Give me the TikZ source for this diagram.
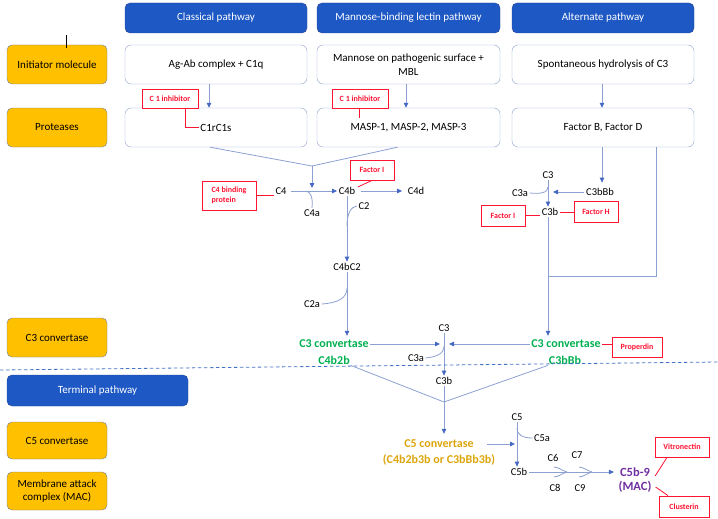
\documentclass[tikz,border=0pt]{standalone}
\usepackage{fontspec}
\setmainfont{Carlito}
\usetikzlibrary{arrows.meta,calc}
\definecolor{hdrf}{RGB}{30,88,196}
\definecolor{hdrb}{RGB}{40,70,150}
\definecolor{yelf}{RGB}{255,192,0}
\definecolor{ybord}{RGB}{110,125,150}
\definecolor{wbord}{RGB}{140,160,205}
\definecolor{lnc}{RGB}{140,160,210}
\definecolor{ahc}{RGB}{68,104,196}
\definecolor{rd}{RGB}{255,20,50}
\definecolor{grnc}{RGB}{0,176,80}
\definecolor{orgc}{RGB}{220,165,10}
\definecolor{purc}{RGB}{112,48,160}
\definecolor{dashc}{RGB}{68,114,196}
\begin{document}
\begin{tikzpicture}[x=1pt,y=-1pt,
  hdr/.style={draw=hdrb, fill=hdrf, rounded corners=5pt, text=white, minimum width=182pt, minimum height=30pt, inner sep=0pt, font=\fontsize{11}{13.5}\selectfont},
  ybox/.style={draw=ybord, fill=yelf, rounded corners=5pt, minimum width=100pt, minimum height=39pt, inner sep=0pt, align=center, font=\fontsize{11}{13.5}\selectfont},
  wbox/.style={draw=wbord, fill=white, rounded corners=6pt, minimum width=182pt, minimum height=39pt, inner sep=0pt, align=center, font=\fontsize{11}{13.5}\selectfont},
  rbox/.style={draw=rd, fill=white, line width=0.8pt, text=rd, font=\fontsize{8}{10}\selectfont\bfseries, inner sep=0pt, minimum width=44pt, minimum height=20pt, align=center},
  lbl/.style={font=\fontsize{10.5}{12}\selectfont, inner sep=1.5pt},
  ln/.style={draw=lnc, line width=0.8pt},
  arr/.style={ln, -{Triangle[length=5pt,width=4.5pt,color=ahc]}},
  rl/.style={draw=rd, line width=0.8pt},
  grn/.style={text=grnc, font=\fontsize{12}{14}\selectfont\bfseries, inner sep=1pt},
  org/.style={text=orgc, font=\fontsize{12}{14}\selectfont\bfseries, inner sep=1pt},
  pur/.style={text=purc, font=\fontsize{12.5}{14}\selectfont\bfseries, inner sep=1pt}
]
\useasboundingbox (0,0) rectangle (718,519);

% headers
\node[hdr] (h1) at (216,18) {Classical pathway};
\node[hdr, minimum width=183pt] (h2) at (408.5,18) {Mannose-binding lectin pathway};
\node[hdr] (h3) at (603,18) {Alternate pathway};

% left column
\node[ybox] (y1) at (57,64.5) {Initiator molecule};
\node[ybox] (y2) at (57,127.5) {Proteases};
\node[ybox] (y3) at (57,337.5) {C3 convertase};
\node[hdr, minimum width=181pt, minimum height=31pt] (ht) at (97.5,390.5) {Terminal pathway};
\node[ybox, minimum height=37pt] (y4) at (57,440.5) {C5 convertase};
\node[ybox, minimum height=38pt] (y5) at (57,491) {Membrane attack\\complex (MAC)};
\draw[black, line width=0.8pt] ($(y1.north)+(9,-10)$) -- ($(y1.north)+(9,3)$);

% first rows
\node[wbox] (agab) at (216,64.5) {Ag-Ab complex + C1q};
\node[wbox, minimum width=183pt] (mann) at (408.5,64.5) {Mannose on pathogenic surface +\\MBL};
\node[wbox] (spon) at (603,64.5) {Spontaneous hydrolysis of C3};
\node[wbox] (c1r) at (216,127.5) {C1rC1s};
\node[wbox, minimum width=183pt] (masp) at (408.5,127.5) {MASP-1, MASP-2, MASP-3};
\node[wbox] (fbd) at (603,127.5) {Factor B, Factor D};

\draw[arr] ($(agab.south)+(-7,0)$) -- ($(c1r.north)+(-7,0)$);
\draw[arr] ($(mann.south)+(-2.5,0)$) -- ($(masp.north)+(-2.5,0)$);
\draw[arr] ($(spon.south)+(-1,0)$) -- ($(fbd.north)+(-1,0)$);

% C1 inhibitors
\node[rbox, minimum width=56pt, minimum height=19pt] (ci1) at (170,98.5) {C 1 inhibitor};
\node[rbox, minimum width=56pt, minimum height=19pt] (ci2) at (360,98.5) {C 1 inhibitor};
\draw[rl] ($(ci1.south)+(15,0)$) |- ($(c1r.center)+(-17,0)$);
\draw[rl] ($(ci2.south)+(-1,0)$) -- ++(0,10);

% classical / lectin cascade
\coordinate (j1) at (312,166);
\node[lbl] (c4) at (281,191) {C4};
\node[lbl] (c4b) at (347,191) {C4b};
\node[lbl] (c4d) at (416,191) {C4d};
\node[lbl] (c4a) at (312,213) {C4a};
\node[lbl] (c2) at (364,206) {C2};
\node[lbl] (c4bc2) at (347,267) {C4bC2};
\node[lbl] (c2a) at (312,304) {C2a};
\node[rbox, minimum width=54pt, minimum height=29pt, align=left] (c4bp) at (229,195.5) {C4 binding\\protein};
\node[rbox] (fi1) at (372,170) {Factor I};

\draw[ln] ($(c1r.south)+(-6,0)$) -- (j1) -- ($(masp.south)+(-11,0)$);
\draw[arr] (j1) -- ($(j1 |- c4b)+(0,-3)$);
\draw[rl] (c4bp.east -| c4bp.east) -- (c4bp.east -| c4.west);
\draw[arr, shorten <=3pt] (c4.east) -- (c4b.west);
\coordinate (c4ap) at (306,191);
\draw[ln] (c4ap) .. controls (311,192) and (313,198) .. (c4a.north);
\draw[rl] (fi1.south) -- ($(c4b.east)+(1,-4)$);
\draw[arr, shorten <=4pt, shorten >=4pt] (c4b.east) -- (c4d.west);
\draw[arr] (c4b.south) -- (c4bc2.north);
\coordinate (c2p) at (347,226);
\draw[ln] (c2p) .. controls (347,213) and (351,207) .. (c2.west);
\coordinate (c2ap) at (347,288);
\draw[ln] (c2ap) .. controls (347,298) and (338,303) .. (c2a.east);

\node[grn] (cv1) at (334,344) {C3 convertase};
\node[grn] (cv1s) at (334,360) {C4b2b};
\draw[arr] (c4bc2.south) -- ($(c4bc2.south |- cv1.north)+(0,-3)$);

% alternate cascade
\node[lbl] (c3r) at (548,175) {C3};
\node[lbl] (c3ar) at (520,193) {C3a};
\node[lbl] (c3bbb) at (600,192) {C3bBb};
\node[lbl] (c3br) at (550,212) {C3b};
\node[rbox, minimum height=21pt] (fi2) at (503,215.5) {Factor I};
\node[rbox, minimum height=21pt] (fh) at (596,211.5) {Factor H};
\draw[arr] ($(fbd.south)+(-1,0)$) -- ($(c3bbb.north)+(2,-4)$);
\draw[arr] (c3bbb.west) -- ($(c3r.south |- c3bbb.west)+(5,0)$);
\draw[arr] (c3r.south) -- (c3r.south |- c3br.north);
\coordinate (c3arp) at (548,187);
\draw[ln] (c3arp) .. controls (548,193) and (540,194) .. (c3ar.east);
\draw[rl] (fi2.east) -- (fi2.east -| c3br.west);
\draw[rl] (c3br.east) -- (c3br.east -| fh.west);
\coordinate (jr) at (548,276);
\draw[ln] ($(fbd.south)+(53,0)$) |- (jr);

\node[grn] (cv2) at (566,344) {C3 convertase};
\node[grn] (cv2s) at (565,360) {C3bBb};
\node[rbox, minimum width=50pt] (pr) at (637,347) {Properdin};
\draw[arr] (c3r |- c3br.south) -- ($(c3r |- cv2.north)+(0,-3)$);
\draw[rl] (cv2.east) -- (cv2.east -| pr.west);

% central C3
\node[lbl] (c3m) at (444,328) {C3};
\node[lbl] (c3am) at (416,358) {C3a};
\node[lbl] (c3bm) at (444,381) {C3b};
\draw[arr] (cv1.east) -- ($(c3m.south |- cv1.east)+(-4,0)$);
\draw[arr] (cv2.west) -- ($(c3m.south |- cv2.west)+(5,0)$);
\draw[arr] (c3m.south) -- (c3bm.north);
\coordinate (c3amp) at (444,346);
\draw[ln] (c3amp) .. controls (444,354) and (436,357) .. (c3am.east);

% dashed separator
\draw[draw=dashc, line width=0.8pt, dash pattern=on 3.5pt off 2.5pt] (0,370) -- (718,362);

% C5 convertase
\coordinate (j2) at (444,402);
\node[org] (c5c) at (439,444) {C5 convertase};
\node[org] (c5cs) at (439,460) {(C4b2b3b or C3bBb3b)};
\draw[ln] (cv1s.south east) -- (j2) -- (cv2s.south west);
\draw[arr] (c3bm.south) -- ($(c3bm.south |- c5c.north)+(0,-5)$);

\node[lbl] (c5) at (517,417) {C5};
\node[lbl] (c5a) at (542,438) {C5a};
\node[lbl] (c5bb) at (519,472) {C5b};
\draw[arr] ($(c5c.east)+(12,0)$) -- ($(c5.south |- c5c.east)+(-2,0)$);
\draw[arr] (c5.south) -- (c5.south |- c5bb.north);
\coordinate (c5ap) at (517,428);
\draw[ln] (c5ap) .. controls (517,435) and (523,438) .. (c5a.west);

% MAC
\node[pur] (mac) at (635,472) {C5b-9};
\node[pur] (macs) at (635,487) {(MAC)};
\node[lbl] (c6) at (553,458) {C6};
\node[lbl] (c7) at (577,455) {C7};
\node[lbl] (c8) at (555,488) {C8};
\node[lbl] (c9) at (580,488) {C9};
\draw[arr, shorten >=5pt] (c5bb.east) -- (mac.west);
\coordinate (ch1) at (567,472);
\coordinate (ch2) at (592,472);
\draw[ln] (ch1) .. controls +(-4,-1) and +(4,0) .. +(-13,-5);
\draw[ln] (ch1) .. controls +(-4,1) and +(4,0) .. +(-13,5);
\draw[ln] (ch2) .. controls +(-4,-1) and +(4,0) .. +(-13,-5);
\draw[ln] (ch2) .. controls +(-4,1) and +(4,0) .. +(-13,5);

\node[rbox, minimum width=54pt] (vit) at (682,447) {Vitronectin};
\node[rbox, minimum width=50pt, minimum height=21pt] (clu) at (684,506.5) {Clusterin};
\draw[rl] ($(vit.south)+(-15,0)$) -- ($(mac.east)+(4,4)$);
\draw[rl] ($(macs.east)+(3,0)$) -- ($(clu.north)+(-16,0)$);
\end{tikzpicture}
\end{document}
